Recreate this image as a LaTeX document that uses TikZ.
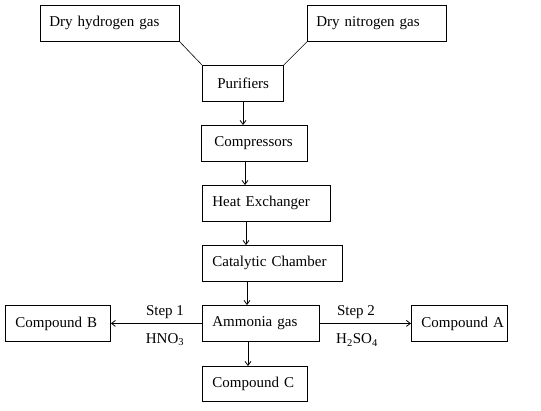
\documentclass[tikz,border=0pt]{standalone}
\usepackage{fontspec}
\setmainfont{Liberation Serif}
\usetikzlibrary{arrows.meta}
\tikzset{
  box/.style={draw, rectangle, anchor=north west, minimum height=36pt, inner ysep=0pt, align=left, line width=0.8pt},
  arr/.style={line width=0.8pt, -{Straight Barb[length=4pt,width=6pt]}},
  conn/.style={line width=0.6pt},
  lbl/.style={inner sep=0pt}
}
\begin{document}
\begin{tikzpicture}[x=1pt,y=-1pt,font=\fontsize{15}{18}\selectfont]
\useasboundingbox (0,0) rectangle (541,410);
\node[box, inner xsep=9pt, text width=121pt] (h) at (40,5) {Dry hydrogen gas};
\node[box, inner xsep=9pt, text width=121pt] (n) at (307,5) {Dry nitrogen gas};
\node[box, inner xsep=15pt, text width=51pt] (p) at (202,65) {Purifiers};
\node[box, inner xsep=13pt, text width=80pt] (c) at (201,125) {Compressors};
\node[box, inner xsep=10pt, text width=108pt] (he) at (202,185) {Heat Exchanger};
\node[box, inner xsep=10pt, text width=120pt] (cc) at (202,245) {Catalytic Chamber};
\node[box, inner xsep=10pt, text width=97pt] (am) at (202,305) {Ammonia gas};
\node[box, inner xsep=10pt, text width=85pt] (b) at (5,305) {Compound B};
\node[box, inner xsep=3pt, text width=90pt] (a) at (411,305) {\hspace*{7pt}Compound A};
\node[box, inner xsep=10pt, text width=85pt, minimum height=35pt] (cpc) at (202,366) {Compound C};
\draw[conn] (h.south east) -- (p.north west);
\draw[conn] (n.south west) -- (p.north east);
\draw[arr] (p.south -| 243,0) -- (c.north -| 243,0);
\draw[arr] (c.south -| 245,0) -- (he.north -| 245,0);
\draw[arr] (he.south -| 246,0) -- (cc.north -| 246,0);
\draw[arr] (cc.south -| 247,0) -- (am.north -| 247,0);
\draw[arr] (am.south -| 248,0) -- (cpc.north -| 248,0);
\draw[arr] (am.west) -- (b.east);
\draw[arr] (am.east) -- (a.west);
\node[lbl] (s1) at (165,312) {Step 1};
\node[lbl] (hn) at (165,340) {HNO\textsubscript{3}};
\node[lbl] (s2) at (356,312) {Step 2};
\node[lbl] (hs) at (357,340) {H\textsubscript{2}SO\textsubscript{4}};
\end{tikzpicture}
\end{document}
